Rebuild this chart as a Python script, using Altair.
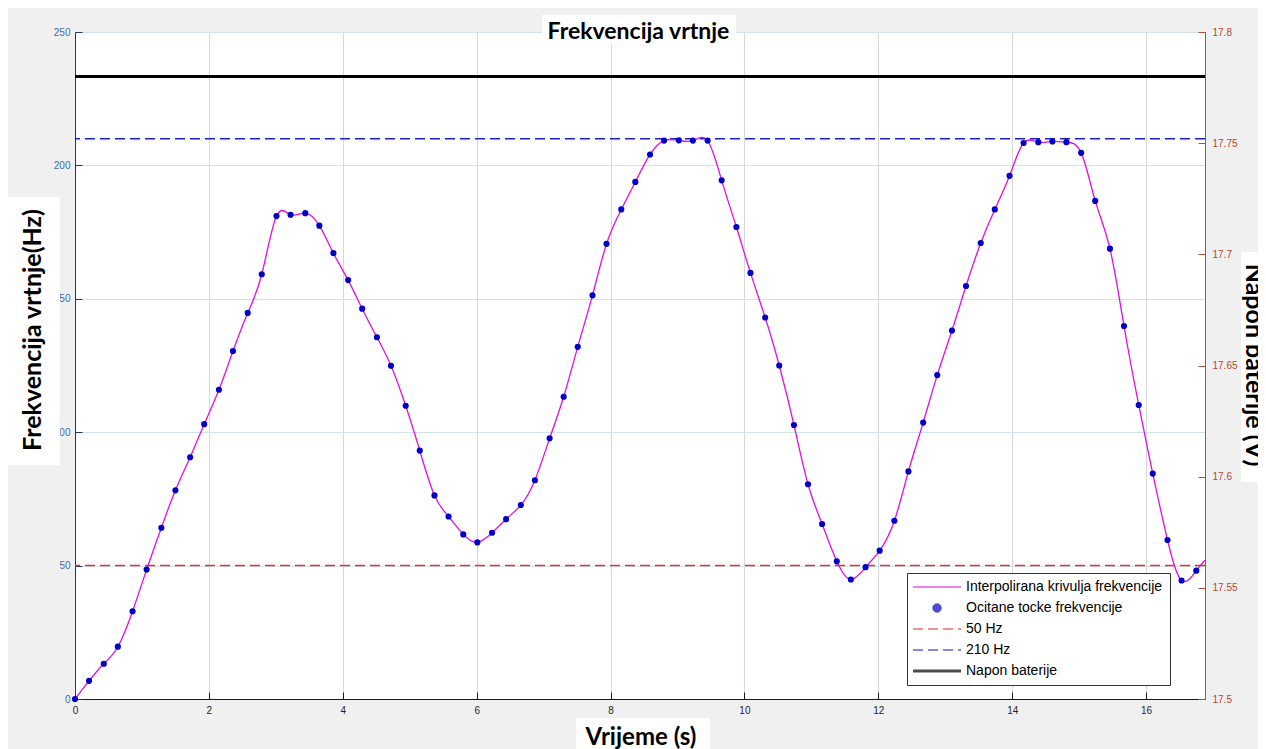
import altair as alt
import pandas as pd

# ---------------- data ----------------
vrijeme = [0.00, 0.21, 0.43, 0.64, 0.86, 1.07, 1.29, 1.50, 1.72, 1.93,
           2.15, 2.36, 2.58, 2.79, 3.01, 3.22, 3.44, 3.65, 3.86, 4.08,
           4.29, 4.51, 4.72, 4.94, 5.15, 5.37, 5.58, 5.80, 6.01, 6.23,
           6.44, 6.66, 6.87, 7.09, 7.30, 7.51, 7.73, 7.94, 8.16, 8.37,
           8.59, 8.80, 9.02, 9.23, 9.45, 9.66, 9.88, 10.09, 10.31, 10.52,
           10.74, 10.95, 11.16, 11.38, 11.59, 11.81, 12.02, 12.24, 12.45, 12.67,
           12.88, 13.10, 13.31, 13.53, 13.74, 13.96, 14.17, 14.39, 14.60, 14.81,
           15.03, 15.24, 15.46, 15.67, 15.89, 16.10, 16.32, 16.53, 16.75]
frekvencija = [0.0, 6.8, 13.2, 19.6, 32.9, 48.5, 64.2, 78.2, 90.6, 103.0,
               115.9, 130.4, 144.7, 159.2, 181.0, 181.5, 182.1, 177.4, 167.1, 157.0,
               146.3, 135.6, 124.9, 109.9, 93.1, 76.3, 68.4, 61.7, 58.7, 62.3,
               67.4, 72.7, 82.0, 97.7, 113.3, 132.0, 151.3, 170.6, 183.5, 193.8,
               204.1, 209.3, 209.4, 209.3, 209.3, 194.4, 176.9, 159.7, 143.0, 125.0,
               102.7, 80.5, 65.6, 51.6, 44.8, 49.4, 55.6, 66.8, 85.3, 103.6,
               121.4, 138.1, 154.8, 170.9, 183.5, 196.1, 208.4, 208.7, 209.0, 208.7,
               204.7, 186.7, 168.8, 139.8, 110.2, 84.5, 59.6, 44.4, 48.1]
# end of the interpolated curve at the right edge of the plot
kraj_vrijeme = [16.88]
kraj_frekvencija = [52.0]
granica_50 = [50]
granica_210 = [210]
napon_baterije = [17.78]

x_ticks = [0, 2, 4, 6, 8, 10, 12, 14, 16]
hz_ticks = [0, 50, 100, 150, 200, 250]
v_ticks = [17.5, 17.55, 17.6, 17.65, 17.7, 17.75, 17.8]

legend_labels = ["Interpolirana krivulja frekvencije", "Ocitane tocke frekvencije",
                 "50 Hz", "210 Hz", "Napon baterije"]
legend_colors = ["#e010e0", "#0000c8", "#e8302e", "#1c1cc8", "#000000"]
LINE_SYM = "M-12,0H12"
legend_shapes = [LINE_SYM, "circle", LINE_SYM, LINE_SYM, LINE_SYM]
legend_sizes = [16, 72, 16, 16, 16]
legend_dashes = [[1, 0], [1, 0], [10, 5], [10, 5], [1, 0]]
legend_widths = [1.3, 1, 1.5, 1.5, 3]

W, H = 1130, 667

df_tocke = pd.DataFrame({"t": vrijeme, "f": frekvencija})
df_krivulja = pd.DataFrame({"t": vrijeme + kraj_vrijeme, "f": frekvencija + kraj_frekvencija})

x_scale = alt.Scale(domain=[0, 16.88], nice=False, zero=False)
y_scale = alt.Scale(domain=[0, 250], nice=False, zero=False)
v_scale = alt.Scale(domain=[17.5, 17.8], nice=False, zero=False)

x_axis = alt.Axis(title=None, values=x_ticks, format="d", grid=True, gridColor="#d4d7db",
                  domainColor="#1a1a1a", tickColor="#1a1a1a", ticks=True,
                  tickSize={"expr": "-7"}, labelPadding=13, labelColor="#262626",
                  labelFont="Liberation Sans", labelFontSize=10, labelFlush=False,
                  labelOverlap=False, zindex=0)
y_axis = alt.Axis(title=None, values=hz_ticks, format="d", grid=True, gridColor="#d0e2ee",
                  domainColor="#27326e", tickColor="#27326e", ticks=True,
                  tickSize={"expr": "-7"}, labelPadding=12, labelColor="#3a6ea8",
                  labelFont="Liberation Sans", labelFontSize=10, labelFlush=False,
                  labelOverlap=False, zindex=0)
v_axis = alt.Axis(title=None, orient="right", values=v_ticks, format="~g", grid=False,
                  domainColor="#b0503c", tickColor="#b0503c", ticks=True,
                  tickSize={"expr": "-7"}, labelPadding=14, labelColor="#b5452e",
                  labelFont="Liberation Sans", labelFontSize=10, labelFlush=False,
                  labelOverlap=False, zindex=0)

rule_50 = alt.Chart(pd.DataFrame({"f": granica_50})).mark_rule(
    color="#e8302e", strokeDash=[10, 5], strokeWidth=1.5
).encode(y=alt.Y("f:Q", scale=y_scale, axis=y_axis))

rule_210 = alt.Chart(pd.DataFrame({"f": granica_210})).mark_rule(
    color="#1c1cc8", strokeDash=[10, 5], strokeWidth=1.5
).encode(y=alt.Y("f:Q", scale=y_scale, axis=y_axis))

krivulja = alt.Chart(df_krivulja).mark_line(
    color="#e010e0", strokeWidth=1.3, interpolate="natural"
).encode(
    x=alt.X("t:Q", scale=x_scale, axis=x_axis),
    y=alt.Y("f:Q", scale=y_scale, axis=y_axis),
)

tocke = alt.Chart(df_tocke).mark_point(
    filled=True, color="#0000c8", size=38, opacity=1, shape="circle"
).encode(
    x=alt.X("t:Q", scale=x_scale, axis=x_axis),
    y=alt.Y("f:Q", scale=y_scale, axis=y_axis),
)

lijevo = alt.layer(rule_50, rule_210, krivulja, tocke)

baterija = alt.Chart(pd.DataFrame({"v": napon_baterije})).mark_rule(
    color="black", strokeWidth=3
).encode(y=alt.Y("v:Q", scale=v_scale, axis=v_axis))

one = pd.DataFrame({"a": [0]})


def box(x1, x2, y1, y2):
    return alt.Chart(one).mark_rect(color="white", opacity=1).encode(
        x=alt.value(x1), x2=alt.value(x2), y=alt.value(y1), y2=alt.value(y2)
    )


def label(txt, x, y, size, angle=0, baseline="alphabetic"):
    kw = dict(text=txt, font="Lato", fontWeight="bold", fontSize=size,
              align="center", baseline=baseline, color="black")
    if angle:
        kw["angle"] = angle
    return alt.Chart(one).mark_text(**kw).encode(x=alt.value(x), y=alt.value(y))


anotacije = [
    box(467, 661, -17, 12), label("Frekvencija vrtnje", 563.5, 7, 23),
    box(-67, -15, 165, 433), label("Frekvencija vrtnje(Hz)", -42, 298, 25, 270, "middle"),
    box(501, 635, 686, 717), label("Vrijeme (s)", 566, 713, 24),
    box(1166, 1200, 220, 450), label("Napon baterije (V)", 1171, 333, 25, 90),
]

legend = alt.Legend(title=None, orient="none", legendX=832, legendY=541,
                    fillColor="white", strokeColor="#333333", padding=7, cornerRadius=0,
                    labelFont="Liberation Sans", labelFontSize=14, labelColor="black",
                    labelLimit=400, rowPadding=7, labelOffset=22, symbolOffset=16,
                    symbolFillColor="#0000c8")

legenda = alt.Chart(pd.DataFrame({"serija": legend_labels})).mark_point().encode(
    fill=alt.Fill("serija:N", scale=alt.Scale(domain=legend_labels, range=legend_colors), legend=legend),
    stroke=alt.Stroke("serija:N", scale=alt.Scale(domain=legend_labels, range=legend_colors), legend=legend),
    shape=alt.Shape("serija:N", scale=alt.Scale(domain=legend_labels, range=legend_shapes), legend=legend),
    size=alt.Size("serija:N", scale=alt.Scale(type="ordinal", domain=legend_labels, range=legend_sizes), legend=legend),
    strokeDash=alt.StrokeDash("serija:N", scale=alt.Scale(domain=legend_labels, range=legend_dashes), legend=legend),
    strokeWidth=alt.StrokeWidth("serija:N", scale=alt.Scale(type="ordinal", domain=legend_labels, range=legend_widths), legend=legend),
).transform_filter("false")

chart = alt.layer(lijevo, baterija, *anotacije, legenda).resolve_scale(
    y="independent"
).properties(
    width=W, height=H, background="#f0f0f0",
    padding={"left": 67, "top": 24, "right": 53, "bottom": 50},
    autosize=alt.AutoSizeParams(type="none"),
    view=alt.ViewBackground(fill="white", stroke="#2a2a2a", strokeWidth=1),
).configure_view(fill="white", stroke="#2a2a2a", strokeWidth=1)

chart.save("out.html", embed_options={"renderer": "svg", "actions": False})
